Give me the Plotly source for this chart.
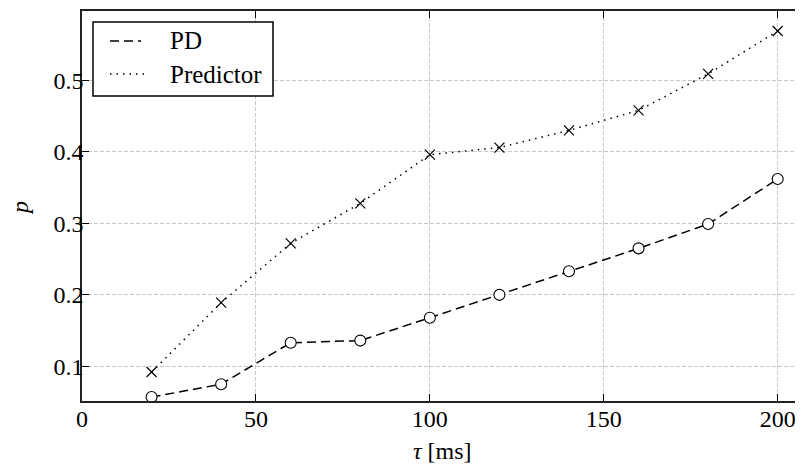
import plotly.graph_objects as go

tau = [20, 40, 60, 80, 100, 120, 140, 160, 180, 200]
pd_vals = [0.057, 0.075, 0.133, 0.136, 0.168, 0.200, 0.233, 0.265, 0.299, 0.362]
pred_vals = [0.092, 0.189, 0.272, 0.328, 0.396, 0.406, 0.430, 0.458, 0.509, 0.569]

x_ticks = [0, 50, 100, 150, 200]
y_ticks = [0.1, 0.2, 0.3, 0.4, 0.5]
y_tick_labels = ["0.1", "0.2", "0.3", "0.4", "0.5"]
series_names = ["PD", "Predictor"]

FONT = "Liberation Serif"
W, H = 803, 466
OFF = 8  # default page body margin
L, R, T, B = 74, 2, 3, 73
PW, PH = W - L - R, H - T - B


def px(x):
    # screen x pixel -> paper fraction
    return (x - OFF - L) / PW


def py(y):
    # screen y pixel -> paper fraction
    return 1 - (y - OFF - T) / PH


fig = go.Figure()
fig.add_trace(go.Scatter(x=tau, y=pd_vals, mode="lines", name=series_names[0], showlegend=False,
                         line=dict(color="black", width=1.5, dash="9px,5px")))
fig.add_trace(go.Scatter(x=tau, y=pred_vals, mode="lines", name=series_names[1], showlegend=False,
                         line=dict(color="black", width=1.5, dash="1.5px,5px")))
fig.add_trace(go.Scatter(x=tau, y=pd_vals, mode="markers", showlegend=False,
                         marker=dict(symbol="circle", size=11, color="white",
                                     line=dict(color="black", width=1.1))))
fig.add_trace(go.Scatter(x=tau, y=pred_vals, mode="markers", showlegend=False,
                         marker=dict(symbol="x-thin", size=10, color="black",
                                     line=dict(color="black", width=1.2))))

axis_common = dict(
    showline=True, linecolor="#222", linewidth=1.5,
    ticks="inside", ticklen=7, tickwidth=1, tickcolor="black",
    showgrid=True, gridcolor="#c8c8c8", gridwidth=1, griddash="4px,2px",
    zeroline=False, automargin=False,
    tickfont=dict(family=FONT, size=24, color="black"),
)

# manual legend (box, line samples, labels)
shapes = [
    dict(type="rect", xref="paper", yref="paper", x0=px(93), x1=px(273), y0=py(96), y1=py(22),
         line=dict(color="black", width=1.5), fillcolor="white", layer="above"),
    dict(type="line", xref="paper", yref="paper", x0=px(110), x1=px(141), y0=py(41), y1=py(41),
         line=dict(color="black", width=1.5, dash="9px,5px"), layer="above"),
    dict(type="line", xref="paper", yref="paper", x0=px(110), x1=px(144), y0=py(74), y1=py(74),
         line=dict(color="black", width=1.5, dash="1.5px,5px"), layer="above"),
]
annotations = [
    dict(text=series_names[0], xref="paper", yref="paper", x=px(168), y=py(41),
         xanchor="left", yanchor="middle", showarrow=False,
         font=dict(family=FONT, size=25, color="black")),
    dict(text=series_names[1], xref="paper", yref="paper", x=px(168), y=py(74),
         xanchor="left", yanchor="middle", showarrow=False,
         font=dict(family=FONT, size=25, color="black")),
    dict(text="<i>τ</i> [ms]", xref="paper", yref="paper", x=px(442), y=py(451),
         xanchor="center", yanchor="middle", showarrow=False,
         font=dict(family=FONT, size=24, color="black")),
    dict(text="<i>p</i>", xref="paper", yref="paper", x=px(20), y=py(208),
         xanchor="center", yanchor="middle", showarrow=False, textangle=-90,
         font=dict(family=FONT, size=24, color="black")),
]

fig.update_layout(
    width=W, height=H,
    margin=dict(l=L, r=R, t=T, b=B, autoexpand=False),
    paper_bgcolor="white", plot_bgcolor="white",
    font=dict(family=FONT, size=24, color="black"),
    xaxis=dict(range=[0, 209], tickvals=x_ticks, mirror="ticks", ticklabelstandoff=-5,
               **axis_common),
    yaxis=dict(range=[0.0515, 0.597], tickvals=y_ticks, ticktext=y_tick_labels,
               mirror="ticks", ticklabelstandoff=-8,
               **axis_common),
    shapes=shapes,
    annotations=annotations,
    showlegend=False,
)

fig.write_html("out.html")
